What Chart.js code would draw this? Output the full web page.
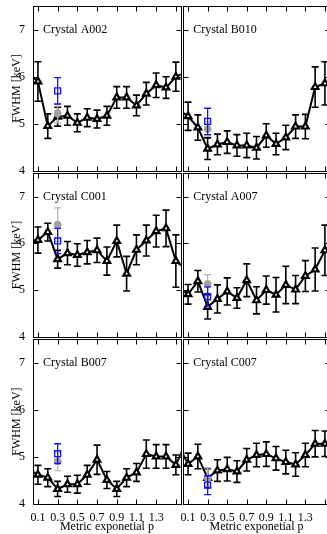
<!DOCTYPE html>
<html>
<head>
<meta charset="utf-8">
<script src="https://cdn.jsdelivr.net/npm/chart.js"></script>
<style>
  html, body { margin: 0; padding: 0; background: #fff; }
  body { width: 327px; height: 534px; overflow: hidden; position: relative; }
  canvas { position: absolute; }
</style>
</head>
<body>
<script>
// metric exponent p; 0.0 and 1.6 sit just outside the plotted range (only the line stubs show)
const pValues = [0.0, 0.1, 0.2, 0.3, 0.4, 0.5, 0.6, 0.7, 0.8, 0.9, 1.0, 1.1, 1.2, 1.3, 1.4, 1.5, 1.6];
const xTickValues = [0.1, 0.3, 0.5, 0.7, 0.9, 1.1, 1.3, 1.5];
const xTickLabels = ['0.1', '0.3', '0.5', '0.7', '0.9', '1.1', '1.3', ''];
const yTickValues = [4, 5, 6, 7];
const crystals = ['Crystal A002', 'Crystal B010', 'Crystal C001', 'Crystal A007', 'Crystal B007', 'Crystal C007'];

const fwhmA002 = [6.08, 5.90, 4.95, 5.15, 5.17, 5.02, 5.13, 5.10, 5.17, 5.56, 5.56, 5.39, 5.64, 5.82, 5.77, 6.00, 6.10];
const errA002  = [0.35, 0.42, 0.26, 0.20, 0.20, 0.19, 0.19, 0.19, 0.20, 0.23, 0.23, 0.22, 0.24, 0.26, 0.23, 0.31, 0.30];
const fwhmB010 = [5.30, 5.16, 4.92, 4.47, 4.56, 4.61, 4.54, 4.54, 4.49, 4.75, 4.57, 4.71, 4.94, 4.94, 5.78, 5.86, 5.90];
const errB010  = [0.30, 0.30, 0.27, 0.23, 0.22, 0.24, 0.23, 0.26, 0.24, 0.25, 0.23, 0.26, 0.25, 0.26, 0.43, 0.46, 0.45];
const fwhmC001 = [6.05, 6.07, 6.24, 5.66, 5.79, 5.75, 5.81, 5.85, 5.62, 6.05, 5.35, 5.86, 6.06, 6.26, 6.32, 5.62, 5.45];
const errC001  = [0.28, 0.28, 0.19, 0.19, 0.25, 0.24, 0.25, 0.26, 0.30, 0.34, 0.37, 0.32, 0.33, 0.34, 0.39, 0.56, 0.50];
const fwhmA007 = [5.06, 4.91, 5.19, 4.64, 4.81, 4.97, 4.83, 5.21, 4.78, 5.00, 4.90, 5.11, 5.01, 5.30, 5.44, 5.85, 6.00];
const errA007  = [0.21, 0.21, 0.23, 0.26, 0.30, 0.29, 0.22, 0.35, 0.29, 0.30, 0.37, 0.40, 0.30, 0.33, 0.46, 0.54, 0.50];
const fwhmB007 = [4.75, 4.62, 4.56, 4.32, 4.42, 4.42, 4.62, 4.94, 4.51, 4.32, 4.56, 4.67, 5.06, 5.01, 5.01, 4.83, 5.30];
const errB007  = [0.20, 0.20, 0.19, 0.16, 0.17, 0.19, 0.20, 0.31, 0.18, 0.16, 0.19, 0.19, 0.30, 0.25, 0.25, 0.21, 0.25];
const fwhmC007 = [5.25, 4.85, 5.01, 4.55, 4.71, 4.74, 4.69, 4.94, 5.04, 5.06, 4.97, 4.89, 4.84, 5.04, 5.28, 5.28, 5.30];
const errC007  = [0.23, 0.23, 0.26, 0.20, 0.23, 0.25, 0.23, 0.24, 0.25, 0.26, 0.25, 0.25, 0.25, 0.25, 0.28, 0.27, 0.27];

// single reference measurements at p = 0.3, one per crystal (same order as crystals)
const refP = 0.3;
const grayFwhm = [5.22, 4.89, 6.40, 5.13, 4.91, 4.55];
const grayErr  = [0.20, 0.15, 0.36, 0.20, 0.20, 0.22];
const blueFwhm = [5.70, 5.05, 6.05, 4.86, 5.07, 4.40];
const blueErr  = [0.28, 0.28, 0.27, 0.21, 0.21, 0.20];

const seriesFwhm = [fwhmA002, fwhmB010, fwhmC001, fwhmA007, fwhmB007, fwhmC007];
const seriesErr = [errA002, errB010, errC001, errA007, errB007, errC007];

Chart.defaults.font.family = "'Liberation Serif', 'DejaVu Serif', serif";
Chart.defaults.font.size = 12;
Chart.defaults.color = '#000';

// panel geometry (chart area edges in page pixels)
const colLeft = [33, 182];
const panelW = 149;
const rowTop = [5, 172, 338];
const rowBottom = [172, 338, 504];
const m = 5;

// error bars, inward ticks, frame and crystal name
const panelDeco = {
  id: 'panelDeco',
  beforeDatasetDraw(chart, args) {
    const ds = chart.data.datasets[args.index];
    if (!ds.errors) return;
    const ctx = chart.ctx, a = chart.chartArea, ys = chart.scales.y;
    ctx.save();
    ctx.beginPath();
    ctx.rect(a.left, a.top, a.right - a.left, a.bottom - a.top);
    ctx.clip();
    ctx.strokeStyle = ds.errColor;
    ctx.lineWidth = ds.errWidth;
    args.meta.data.forEach((pt, i) => {
      const v = ds.data[i].y, e = ds.errors[i];
      const y1 = ys.getPixelForValue(v + e), y2 = ys.getPixelForValue(v - e);
      ctx.beginPath();
      ctx.moveTo(pt.x, y1); ctx.lineTo(pt.x, y2);
      ctx.moveTo(pt.x - 3.5, y1); ctx.lineTo(pt.x + 3.5, y1);
      ctx.moveTo(pt.x - 3.5, y2); ctx.lineTo(pt.x + 3.5, y2);
      ctx.stroke();
    });
    ctx.restore();
  },
  afterDatasetsDraw(chart, args, opts) {
    const ctx = chart.ctx, a = chart.chartArea;
    const xs = chart.scales.x, ys = chart.scales.y;
    const L = Math.round(a.left) + 0.5, R = Math.round(a.right) + 0.5;
    const T = Math.round(a.top) + 0.5, B = Math.round(a.bottom) + 0.5;
    ctx.save();
    ctx.strokeStyle = '#000';
    ctx.lineWidth = 1;
    ctx.beginPath();
    xTickValues.forEach(v => {
      const x = Math.round(xs.getPixelForValue(v)) + 0.5;
      ctx.moveTo(x, T); ctx.lineTo(x, T + 5);
      ctx.moveTo(x, B); ctx.lineTo(x, B - 5);
    });
    yTickValues.forEach(v => {
      const y = Math.round(ys.getPixelForValue(v)) + 0.5;
      ctx.moveTo(L, y); ctx.lineTo(L + 5, y);
      ctx.moveTo(R, y); ctx.lineTo(R - 5, y);
    });
    ctx.stroke();
    ctx.strokeRect(L, T, R - L, B - T);
    ctx.fillStyle = '#000';
    ctx.font = "12px 'Liberation Serif', serif";
    ctx.textBaseline = 'middle';
    ctx.fillText(opts.name, a.left + 10, ys.getPixelForValue(7));
    ctx.restore();
  }
};

crystals.forEach((name, i) => {
  const col = i % 2, row = Math.floor(i / 2);
  const isLeft = col === 0, isBottom = row === 2;
  const yAxisW = isLeft ? colLeft[0] : m;
  const xAxisH = isBottom ? 30 : m;
  const cLeft = colLeft[col] - yAxisW;
  const cTop = rowTop[row] - m;
  const cW = yAxisW + panelW + m;
  const cH = isBottom ? 534 - cTop : (rowBottom[row] - rowTop[row]) + 2 * m;

  const canvas = document.createElement('canvas');
  canvas.width = cW; canvas.height = cH;
  canvas.style.left = cLeft + 'px'; canvas.style.top = cTop + 'px';
  canvas.style.width = cW + 'px'; canvas.style.height = cH + 'px';
  document.body.appendChild(canvas);

  new Chart(canvas.getContext('2d'), {
    type: 'line',
    data: {
      datasets: [{
        label: 'reference (blue)',
        data: [{ x: refP, y: blueFwhm[i] }],
        errors: [blueErr[i]], errColor: '#1010ff', errWidth: 1.3,
        showLine: false,
        pointStyle: 'rect', pointRadius: 4.2,
        pointBorderColor: '#1010ff', pointBackgroundColor: 'rgba(0,0,0,0)', pointBorderWidth: 1.3
      }, {
        label: 'reference (gray)',
        data: [{ x: refP, y: grayFwhm[i] }],
        errors: [grayErr[i]], errColor: '#b4b4b4', errWidth: 1.3,
        showLine: false,
        pointStyle: 'circle', pointRadius: 3.5,
        pointBorderColor: '#a0a0a0', pointBackgroundColor: '#a0a0a0', pointBorderWidth: 1
      }, {
        label: name,
        data: pValues.map((p, k) => ({ x: p, y: seriesFwhm[i][k] })),
        errors: seriesErr[i], errColor: '#000', errWidth: 1.6,
        borderColor: '#000', borderWidth: 2, tension: 0,
        pointStyle: 'triangle', pointRadius: 3.8,
        pointBorderColor: '#000', pointBackgroundColor: '#fff', pointBorderWidth: 2.2
      }]
    },
    options: {
      responsive: false,
      animation: false,
      devicePixelRatio: 1,
      layout: { padding: { top: m, right: m, left: 0, bottom: 0 } },
      plugins: {
        legend: { display: false },
        tooltip: { enabled: false },
        panelDeco: { name: name }
      },
      scales: {
        x: {
          type: 'linear', min: 0.05, max: 1.55,
          grid: { display: false, drawTicks: false },
          border: { display: false },
          afterBuildTicks: s => { s.ticks = xTickValues.map(v => ({ value: v })); },
          afterFit: s => { s.height = xAxisH; s.paddingLeft = 0; s.paddingRight = 0; },
          ticks: {
            display: isBottom, autoSkip: false, maxRotation: 0, padding: 7,
            callback: (v, k) => xTickLabels[k]
          },
          title: {
            display: isBottom, text: 'Metric exponetial p',
            padding: { top: 0, bottom: 0 }
          }
        },
        y: {
          type: 'linear', min: 4, max: 7.5,
          grid: { display: false, drawTicks: false },
          border: { display: false },
          afterBuildTicks: s => { s.ticks = yTickValues.map(v => ({ value: v })); },
          afterFit: s => { s.width = yAxisW; s.paddingTop = 0; s.paddingBottom = 0; },
          ticks: { display: isLeft, padding: 8 },
          title: {
            display: isLeft, text: 'FWHM [keV]',
            padding: { top: 10, bottom: 0 }
          }
        }
      }
    },
    plugins: [panelDeco]
  });
});
</script>
</body>
</html>
